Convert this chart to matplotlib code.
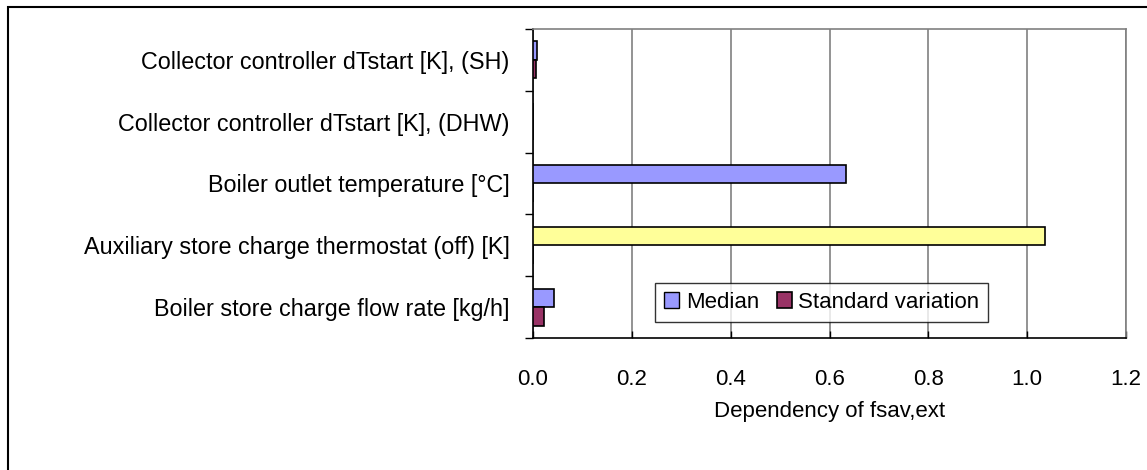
import matplotlib.pyplot as plt
from matplotlib.patches import Rectangle
import numpy as np

plt.rcParams['font.family'] = ['Liberation Sans', 'DejaVu Sans']

parameters = [
    "Collector controller dTstart [K], (SH)",
    "Collector controller dTstart [K], (DHW)",
    "Boiler outlet temperature [°C]",
    "Auxiliary store charge thermostat (off) [K]",
    "Boiler store charge flow rate [kg/h]",
]
median = [0.0075, 0.0, 0.633, 1.036, 0.043]
std_variation = [0.007, 0.0, 0.0, 0.0, 0.023]
median_colors = ["#9999FF", "#9999FF", "#9999FF", "#FFFF99", "#9999FF"]
x_ticks = [0.0, 0.2, 0.4, 0.6, 0.8, 1.0, 1.2]

FS = 16
W, H = 1147, 470
fig = plt.figure(figsize=(W / 100, H / 100), dpi=100)
ax = fig.add_axes([533 / W, (H - 338) / H, 593 / W, 309 / H])

y = np.arange(len(parameters))
bh = 0.3
ax.barh(y - bh / 2, median, height=bh, color=median_colors,
        edgecolor="black", linewidth=1.2, label="Median", zorder=3)
ax.barh(y + bh / 2, std_variation, height=bh, color="#993366",
        edgecolor="black", linewidth=1.2, label="Standard variation", zorder=3)

ax.set_xlim(0, 1.2)
ax.set_ylim(len(parameters) - 0.5, -0.5)
ax.set_xticks(x_ticks)
ax.set_xticklabels([f"{v:.1f}" for v in x_ticks], fontsize=FS)
ax.tick_params(axis="x", direction="in", length=5, pad=22, width=1)

ax.set_yticks(y)
ax.set_yticklabels(parameters, fontsize=16.8)
ax.tick_params(axis="y", length=0, pad=17)
ax.set_yticks(np.arange(len(parameters) + 1) - 0.5, minor=True)
ax.tick_params(axis="y", which="minor", direction="out", length=6, width=1)

ax.grid(axis="x", color="#808080", linewidth=1.2, zorder=0)
ax.set_axisbelow(True)
for side in ("top", "right"):
    ax.spines[side].set_color("#808080")
    ax.spines[side].set_linewidth(1.2)
for side in ("left", "bottom"):
    ax.spines[side].set_color("black")
    ax.spines[side].set_linewidth(1.2)

ax.set_xlabel("Dependency of fsav,ext", fontsize=FS, labelpad=8)

handles, labels = ax.get_legend_handles_labels()
handles[0] = Rectangle((0, 0), 1, 1, facecolor="#9999FF", edgecolor="black")
leg = ax.legend(handles, labels, ncol=2, fontsize=FS, loc="upper left",
                bbox_to_anchor=((655 - 533) / 593, (338 - 283) / 309),
                frameon=True, fancybox=False, borderpad=0.4,
                handlelength=0.68, handleheight=0.68, handletextpad=0.3,
                columnspacing=0.8, borderaxespad=0)
leg.get_frame().set_edgecolor("black")
leg.get_frame().set_linewidth(1)

# outer chart frame, running off the right and bottom edges
fig.patches.append(Rectangle((8 / W, -0.1), 1.2, 1 - 7 / H + 0.1,
                             transform=fig.transFigure, fill=False,
                             edgecolor="black", linewidth=1.5))

fig.savefig("out.png", dpi=100)
